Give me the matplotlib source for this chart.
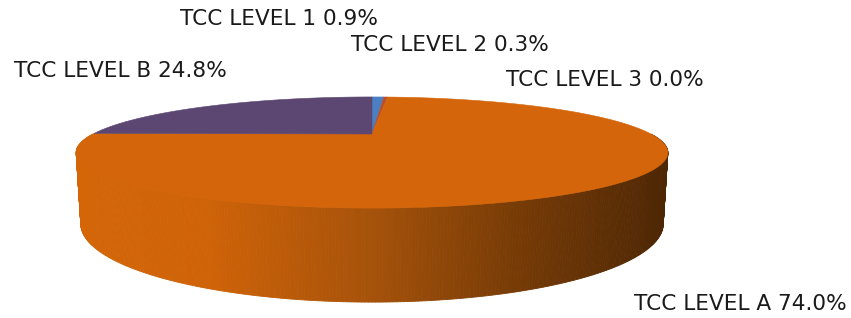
import numpy as np
import matplotlib.pyplot as plt
from matplotlib.patches import Polygon

# slices, clockwise from 12 o'clock
labels = ["TCC LEVEL 1", "TCC LEVEL 2", "TCC LEVEL 3", "TCC LEVEL A", "TCC LEVEL B"]
shares = [0.9, 0.3, 0.0, 74.0, 24.8]
colors = ["#4a7fc3", "#b8502c", "#9bbb59", "#d4650a", "#5c4672"]

# label anchor (left edge, vertical centre) in pixels from top-left
label_pos = [(180, 19), (351, 45), (506, 80), (634, 304), (14, 71)]

W, H = 851, 318
cx, cy = 372, 134          # pie centre in pixels

# simple perspective camera, pie radius = 1
tilt = np.radians(10.2)
eye = 3 * np.cos(tilt)
focal = 823.6
thick = 0.237


def project(theta, z=0.0, r=1.0):
    x = r * np.cos(theta)
    y = r * np.sin(theta)
    d = eye + y * np.cos(tilt) - z * np.sin(tilt)
    return focal * x / d, focal * (y * np.sin(tilt) + z * np.cos(tilt)) / d


# side shading: bright orange on the left, dark brown on the right
shade_t = [0.0, 0.22, 0.5, 0.75, 1.0]
shade_rgb = np.array([[212, 102, 8], [207, 99, 8], [166, 82, 10],
                      [118, 59, 6], [78, 39, 5]]) / 255.0


def side_colour(xs):
    t = np.clip((xs + 296) / 592, 0, 1)
    return [np.interp(t, shade_t, shade_rgb[:, k]) for k in range(3)]


fig = plt.figure(figsize=(W / 100, H / 100), dpi=100)
ax = fig.add_axes([0, 0, 1, 1])
ax.set_xlim(-cx, W - cx)
ax.set_ylim(-(H - cy), cy)
ax.axis("off")

# front wall of the cylinder
th = np.linspace(np.pi, 2 * np.pi, 361)
for a, b in zip(th[:-1], th[1:]):
    xa, ya = project(a)
    xb, yb = project(b)
    xa2, ya2 = project(a, -thick)
    xb2, yb2 = project(b, -thick)
    col = side_colour((xa + xb) / 2)
    ax.add_patch(Polygon([(xa, ya), (xb, yb), (xb2, yb2), (xa2, ya2)],
                         closed=True, facecolor=col, edgecolor=col, lw=0.6))

# top face, slices going clockwise from the top
start = 90.0
for lab, v, c in zip(labels, shares, colors):
    sweep = 360 * v / 100
    if sweep > 0:
        ang = np.radians(np.linspace(start, start - sweep, max(3, int(sweep * 2))))
        px, py = project(ang)
        pts = [(0, 0)] + list(zip(px, py))
        ax.add_patch(Polygon(pts, closed=True, facecolor=c, edgecolor=c, lw=0.4))
    start -= sweep

for lab, v, (lx, ly) in zip(labels, shares, label_pos):
    ax.text(lx / W, 1 - ly / H, f"{lab} {v:.1f}%", transform=ax.transAxes,
            ha="left", va="center", fontsize=15.6, color="#1a1a1a")

fig.savefig("out.png", dpi=100)
